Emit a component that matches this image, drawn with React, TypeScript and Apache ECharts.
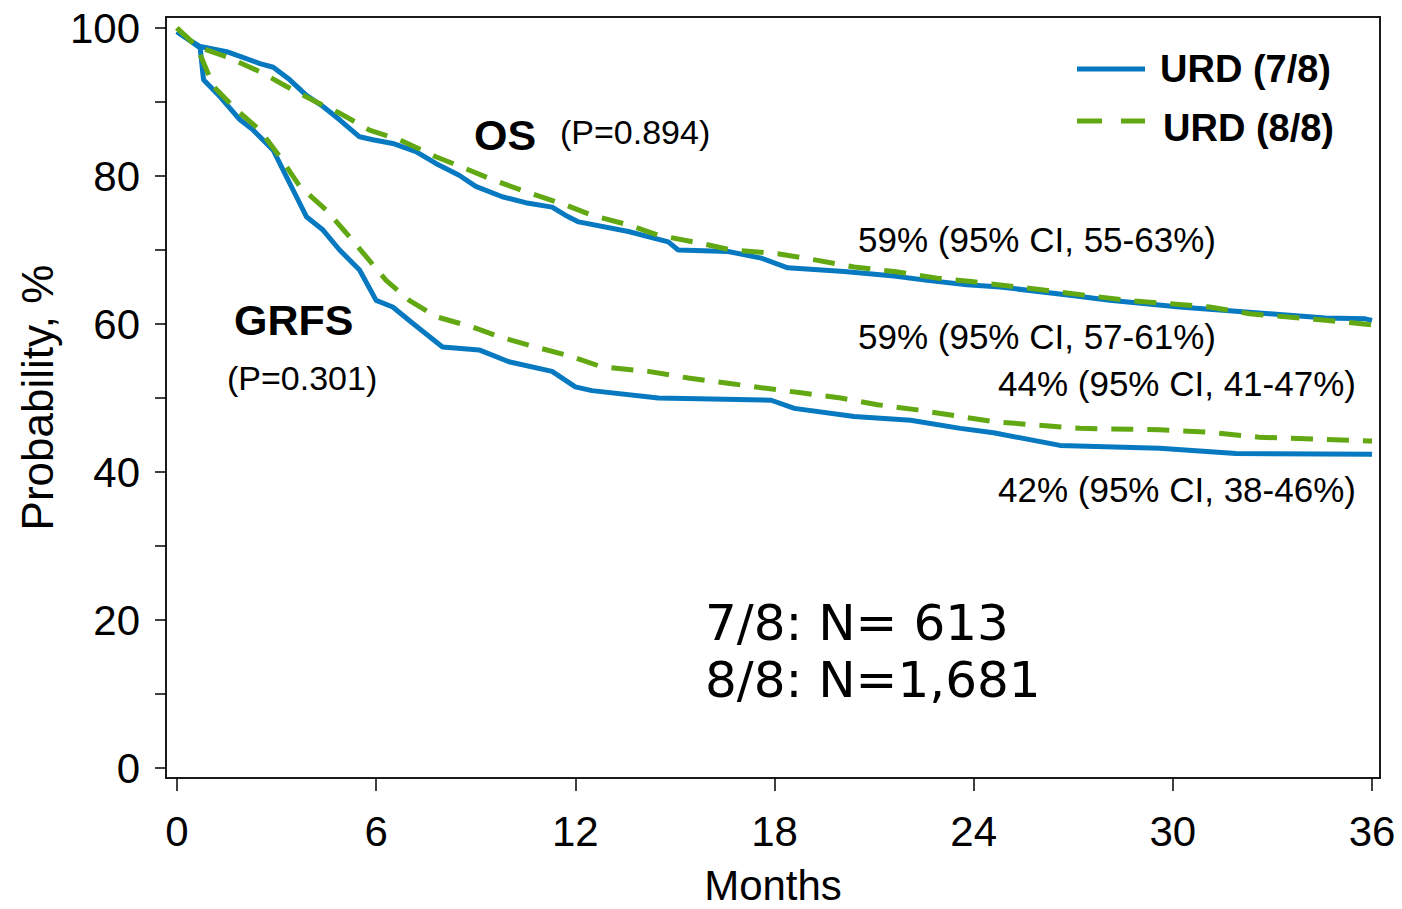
import React, { useEffect, useRef } from "react";
import * as echarts from "echarts";

// ---- Data (months, survival %) ----
const osUrd78Months = [0, 0.3, 0.7, 1.5, 2.5, 2.9, 3.4, 3.9, 4.4, 4.9, 5.5, 5.9, 6.5, 7.2, 7.8, 8.5, 9.0, 9.8, 10.5, 11.3, 11.7, 12.1, 13.6, 14.8, 15.1, 16.6, 17.6, 18.4, 20.1, 21.6, 22.6, 23.8, 24.8, 26.9, 28.1, 30.2, 32.9, 34.6, 35.8, 36];
const osUrd78Values = [99.5, 98.6, 97.5, 96.8, 95.2, 94.7, 93.0, 90.9, 89.4, 87.6, 85.3, 84.9, 84.4, 83.3, 81.7, 80.1, 78.6, 77.2, 76.4, 75.8, 74.7, 73.8, 72.5, 71.1, 70.0, 69.8, 68.9, 67.6, 67.1, 66.5, 65.9, 65.3, 65.0, 63.9, 63.2, 62.3, 61.4, 60.8, 60.7, 60.5];

const osUrd88Months = [0, 0.6, 1.5, 2.5, 3.3, 4.2, 4.9, 5.8, 6.7, 7.8, 8.7, 9.5, 10.5, 11.7, 12.5, 13.6, 14.5, 15.8, 16.7, 18.1, 19.3, 20.4, 21.6, 22.9, 24.0, 26.1, 28.6, 31.1, 32.3, 34.6, 36];
const osUrd88Values = [100, 97.5, 96.1, 94.1, 92.1, 90.0, 88.5, 86.2, 84.9, 82.6, 81.0, 79.5, 77.9, 76.1, 74.7, 73.4, 72.0, 70.9, 70.0, 69.5, 68.6, 67.7, 67.1, 66.2, 65.7, 64.6, 63.2, 62.3, 61.4, 60.5, 59.9];

const grfsUrd78Months = [0, 0.3, 0.7, 0.8, 1.3, 1.9, 2.3, 2.9, 3.3, 3.6, 3.9, 4.4, 4.9, 5.5, 6.0, 6.5, 7.1, 8.0, 9.1, 10.0, 11.3, 12.0, 12.5, 14.5, 17.9, 18.6, 20.4, 22.1, 23.6, 24.6, 26.6, 29.6, 31.9, 36];
const grfsUrd78Values = [99.5, 98.6, 97.3, 93.0, 90.7, 87.6, 86.2, 83.5, 79.9, 77.2, 74.5, 72.7, 70.0, 67.3, 63.2, 62.3, 60.1, 56.9, 56.5, 54.9, 53.6, 51.5, 51.0, 50.0, 49.7, 48.6, 47.5, 47.0, 45.9, 45.3, 43.6, 43.2, 42.5, 42.4];

const grfsUrd88Months = [0, 0.6, 1.1, 1.8, 2.5, 3.1, 3.7, 4.5, 5.1, 5.7, 6.3, 7.0, 7.8, 8.9, 9.7, 10.8, 11.9, 12.8, 14.2, 15.4, 16.6, 17.6, 18.8, 20.0, 21.1, 22.3, 23.6, 24.6, 27.2, 29.6, 31.0, 32.6, 35.9, 36];
const grfsUrd88Values = [100, 97.5, 92.1, 88.9, 86.2, 82.6, 78.6, 75.4, 72.3, 69.1, 65.9, 63.2, 61.0, 59.6, 58.3, 56.9, 55.6, 54.2, 53.6, 52.7, 52.0, 51.4, 50.7, 50.0, 49.1, 48.4, 47.5, 46.8, 45.9, 45.7, 45.4, 44.7, 44.2, 44.2];

const xTicks = [0, 6, 12, 18, 24, 30, 36];
const yLabels = [0, 20, 40, 60, 80, 100];
const yTickMarks = [0, 10, 20, 30, 40, 50, 60, 70, 80, 90, 100];

// axis extents slightly beyond the tick range (frame padding)
const xMin = -0.33;
const xMax = 36.24;
const yMin = -1.35;
const yMax = 101.49;

const BLUE = "#0679c1";
const GREEN = "#62a812";
const ARIAL = "'Liberation Sans', Arial, sans-serif";
const DEJAVU = "'DejaVu Sans', Verdana, sans-serif";

const pairs = (xs: number[], ys: number[]) => xs.map((x, i) => [x, ys[i]]);

export default function App() {
  const ref = useRef<HTMLDivElement>(null);

  useEffect(() => {
    if (!ref.current) return;
    const chart = echarts.init(ref.current, undefined, { renderer: "svg" });

    const txt = (text: string, x: number, y: number, size: number, bold = false, family = ARIAL) => ({
      type: "text",
      x,
      y,
      z: 100,
      style: {
        text,
        fill: "#000",
        font: `${bold ? "bold " : ""}${size}px ${family}`,
        fontSize: size,
        fontWeight: bold ? "bold" : "normal",
        fontFamily: family,
        textAlign: "left",
        textVerticalAlign: "middle",
        align: "left",
        verticalAlign: "middle",
      },
    });

    const blueLine = { color: BLUE, width: 5, type: "solid" as const };
    const greenLine = { color: GREEN, width: 5, type: [22, 14] as any };

    chart.setOption({
      animation: false,
      backgroundColor: "#fff",
      grid: {
        left: 166,
        right: 22,
        top: 17,
        bottom: 131,
        containLabel: false,
        outerBoundsMode: "none",
        show: true,
        borderColor: "#1a1a1a",
        borderWidth: 2,
        backgroundColor: "transparent",
      },
      xAxis: {
        type: "value",
        min: xMin,
        max: xMax,
        axisLine: { show: false, onZero: false },
        axisTick: {
          show: true,
          length: 13,
          customValues: xTicks,
          lineStyle: { color: "#000", width: 1.5 },
        },
        axisLabel: {
          show: true,
          margin: 32,
          fontSize: 42,
          fontFamily: ARIAL,
          color: "#000",
          customValues: xTicks,
        },
        splitLine: { show: false },
        name: "Months",
        nameLocation: "middle",
        nameGap: 86,
        nameTextStyle: { fontSize: 42, fontFamily: ARIAL, color: "#000" },
      },
      yAxis: {
        type: "value",
        min: yMin,
        max: yMax,
        axisLine: { show: false, onZero: false },
        axisTick: {
          show: true,
          length: 11,
          customValues: yTickMarks,
          lineStyle: { color: "#000", width: 1.5 },
        },
        axisLabel: {
          show: true,
          margin: 26,
          fontSize: 42,
          fontFamily: ARIAL,
          color: "#000",
          customValues: yLabels,
        },
        splitLine: { show: false },
        name: "Probability, %",
        nameLocation: "middle",
        nameGap: 107,
        nameTextStyle: { fontSize: 44, fontFamily: ARIAL, color: "#000" },
      },
      series: [
        {
          name: "URD (7/8) OS",
          type: "line",
          data: pairs(osUrd78Months, osUrd78Values),
          showSymbol: false,
          symbol: "none",
          lineStyle: blueLine,
          z: 2,
        },
        {
          name: "URD (7/8) GRFS",
          type: "line",
          data: pairs(grfsUrd78Months, grfsUrd78Values),
          showSymbol: false,
          symbol: "none",
          lineStyle: blueLine,
          z: 2,
        },
        {
          name: "URD (8/8) OS",
          type: "line",
          data: pairs(osUrd88Months, osUrd88Values),
          showSymbol: false,
          symbol: "none",
          lineStyle: greenLine,
          z: 3,
        },
        {
          name: "URD (8/8) GRFS",
          type: "line",
          data: pairs(grfsUrd88Months, grfsUrd88Values),
          showSymbol: false,
          symbol: "none",
          lineStyle: greenLine,
          z: 3,
        },
      ],
      graphic: [
        // legend
        {
          type: "line",
          shape: { x1: 1077, y1: 69, x2: 1145, y2: 69 },
          style: { stroke: BLUE, lineWidth: 5 },
          z: 100,
        },
        {
          type: "line",
          shape: { x1: 1077, y1: 121, x2: 1145, y2: 121 },
          style: { stroke: GREEN, lineWidth: 5, lineDash: [25, 19] },
          z: 100,
        },
        txt("URD (7/8)", 1160, 69, 38, true),
        txt("URD (8/8)", 1163, 128, 38, true),
        // annotations
        txt("OS", 474, 135, 43, true),
        txt("(P=0.894)", 560, 132, 34),
        txt("GRFS", 234, 320, 43, true),
        txt("(P=0.301)", 227, 378, 34),
        txt("59% (95% CI, 55-63%)", 858, 239, 35),
        txt("59% (95% CI, 57-61%)", 858, 336, 35),
        txt("44% (95% CI, 41-47%)", 998, 383, 35),
        txt("42% (95% CI, 38-46%)", 998, 489, 35),
        txt("7/8: N= 613", 705, 623, 50, false, DEJAVU),
        txt("8/8: N=1,681", 705, 680, 50, false, DEJAVU),
      ],
    });

    return () => chart.dispose();
  }, []);

  return (
    <div
      ref={ref}
      style={{ position: "absolute", left: 0, top: 0, width: 1402, height: 909, background: "#fff" }}
    />
  );
}
